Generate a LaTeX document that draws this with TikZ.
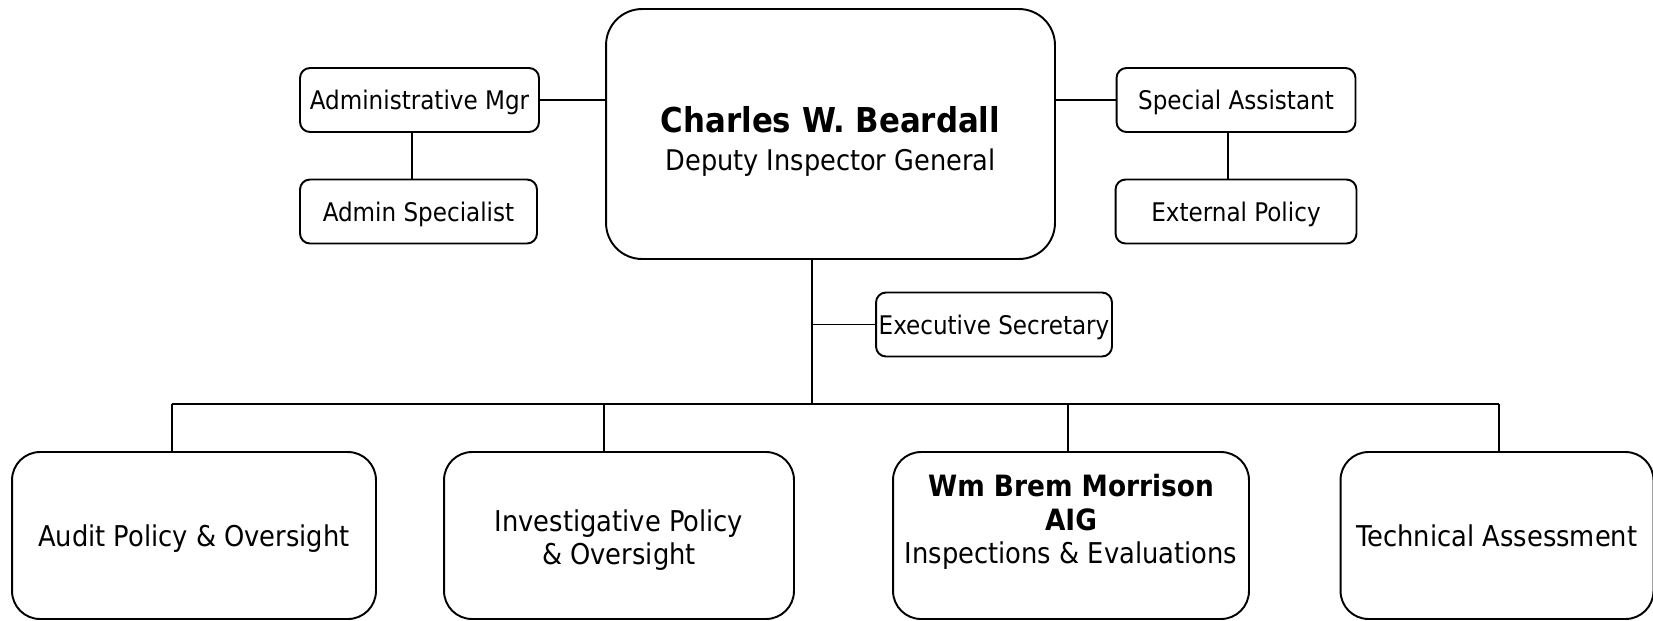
\documentclass[tikz,border=0pt]{standalone}
\usepackage{fontspec}
\setmainfont{DejaVu Sans Condensed}
\begin{document}
\begin{tikzpicture}[x=0.02cm,y=-0.02cm,line join=round,line width=1.1pt,
		box/.style={draw,rounded corners=0.2cm,minimum height=1.28cm,inner sep=1pt,text depth=0pt,font=\fontsize{14.6}{17}\selectfont},
		unit/.style={draw,rounded corners=0.56cm,minimum height=3.34cm,align=center,font=\fontsize{16.3}{18.9}\selectfont}]
	\useasboundingbox (0,0) rectangle (1653,620);
	\node[draw,rounded corners=0.72cm,minimum width=8.98cm,minimum height=5cm,align=center,font=\fontsize{16.2}{21.5}\selectfont] (dig) at (830.5,134) {\rule{0pt}{23pt}{\fontsize{19.5}{21.5}\selectfont\bfseries Charles W. Beardall}\\Deputy Inspector General};
	\node[box,minimum width=4.78cm] (amgr) at (419.5,100) {Administrative Mgr};
	\node[box,minimum width=4.74cm] (aspec) at (418.5,211.5) {Admin Specialist};
	\node[box,minimum width=4.78cm] (sasst) at (1236,100) {Special Assistant};
	\node[box,minimum width=4.82cm] (extpol) at (1236,211.5) {External Policy};
	\node[box,minimum width=4.72cm] (exsec) at (994,324.5) {Executive Secretary};
	\node[unit,minimum width=7.28cm,text depth=0pt] (audit) at (194,535.5) {Audit Policy \& Oversight};
	\node[unit,minimum width=7cm] (invest) at (619,535.5) {\rule{0pt}{18pt}Investigative Policy\\\& Oversight};
	\node[unit,minimum width=7.12cm] (insp) at (1071,535.5) {{\fontsize{16.7}{18.9}\selectfont\bfseries Wm Brem Morrison}\\{\fontsize{16.7}{18.9}\selectfont\bfseries AIG}\\Inspections \& Evaluations\\~};
	\node[unit,minimum width=6.26cm] (tech) at (1497,535.5) {Technical Assessment};
	\coordinate (trunk) at (812,404);
	% staff lines
	\draw (amgr) -- (amgr -| dig.west) (sasst) -- (sasst -| dig.east);
	\draw ([xshift=-0.15cm]amgr.south) -- ([xshift=-0.15cm]amgr.south |- aspec.north);
	\draw ([xshift=-0.16cm]sasst.south) -- ([xshift=-0.16cm]sasst.south |- extpol.north);
	\draw (trunk |- dig.south) -- (trunk) (trunk |- exsec) -- (exsec);
	% divisions
	\draw (172,0 |- trunk) -- (1499,0 |- trunk);
	\foreach \u/\x in {audit/172,invest/604,insp/1068,tech/1499}
		\draw (\x,0 |- trunk) -- (\x,0 |- \u.north);
\end{tikzpicture}
\end{document}
